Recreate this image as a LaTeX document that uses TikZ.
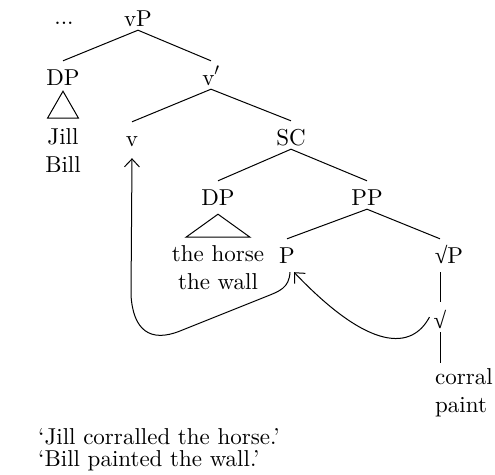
\documentclass[tikz,border=0pt]{standalone}
\usepackage{fontspec}
\setmainfont{lmroman10-regular.otf}
\newfontfamily\rootfont{Liberation Serif}
\usetikzlibrary{arrows.meta}
\newcommand{\rt}{{\rootfont √}}

\begin{document}
\begin{tikzpicture}[x=1pt, y=1pt,
    every node/.style={font=\fontsize{23}{28}\selectfont},
    cat/.style={anchor=base, inner sep=0pt, text height=24pt, text depth=4pt},
    leaf/.style={anchor=north, inner sep=0pt, align=center},
    branch/.style={line width=1pt},
    move/.style={line width=1pt, -{Straight Barb[length=8pt,width=15pt]}}]
    \useasboundingbox (0,0) rectangle (495,-474);

    % vP shell
    \node[cat] (dots) at (64,-24) {...};
    \node[cat] (vP) at (138,-26) {vP};
    \node[cat] (DPsubj) at (63,-85) {DP};
    \node[cat] (vbar) at (211,-85) {v$'$};
    \node[leaf] (subj) at (63,-128) {Jill\\Bill};
    \node[cat] (v) at (132,-146) {v};
    \draw[branch] (vP.south) -- (DPsubj.north);
    \draw[branch] (vP.south) -- (vbar.north);
    \draw[branch] (vbar.south) -- (v.north);
    \draw[branch] ([yshift=-2pt]DPsubj.south) -- ++(-15.5,-27) -- ++(31,0) -- cycle;

    % small clause
    \node[cat] (SC) at (291,-145) {SC};
    \node[cat] (DPobj) at (218,-205) {DP};
    \node[cat] (PP) at (367,-205) {PP};
    \node[leaf] (obj) at (218,-245) {the horse\\the wall};
    \draw[branch] (vbar.south) -- (SC.north);
    \draw[branch] (SC.south) -- (DPobj.north);
    \draw[branch] (SC.south) -- (PP.north);
    \draw[branch] ([yshift=-5pt]DPobj.south) -- ++(-32,-23) -- ++(64,0) -- cycle;

    % PP and root
    \node[cat, text depth=9pt] (P) at (287,-263) {P};
    \node[cat, text depth=9pt] (rootP) at (449,-263) {\rt P};
    \node[anchor=base, inner sep=0pt, text height=26pt, text depth=4pt] (sqrt) at (440,-328) {\rt};
    \node[anchor=north west, inner xsep=0pt, inner ysep=5pt, align=left] (root) at (435,-363) {corral\\paint};
    \draw[branch] (PP.south) -- (P.north);
    \draw[branch] (PP.south) -- (sqrt |- rootP.north);
    \draw[branch] (sqrt |- rootP.south) -- (sqrt.north);
    \draw[branch] (sqrt.south) -- (sqrt.south |- root.north);

    % head movement
    \draw[move] ([xshift=3pt]P.south) .. controls (289,-288) and (280,-291) .. (265,-297) -- (180,-331)
        .. controls (150,-343) and (133,-330) .. (131,-295) -- ([yshift=-8pt]v.south);
    \draw[move] ([xshift=-4pt]sqrt.west) .. controls (412,-350) and (370,-352) .. ([xshift=7pt]P.south);

    % glosses
    \node[anchor=north west, inner sep=0pt, align=left, font=\fontsize{23}{22}\selectfont] (gloss) at (38,-428)
        {‘Jill corralled the horse.’\\‘Bill painted the wall.’};
\end{tikzpicture}
\end{document}
